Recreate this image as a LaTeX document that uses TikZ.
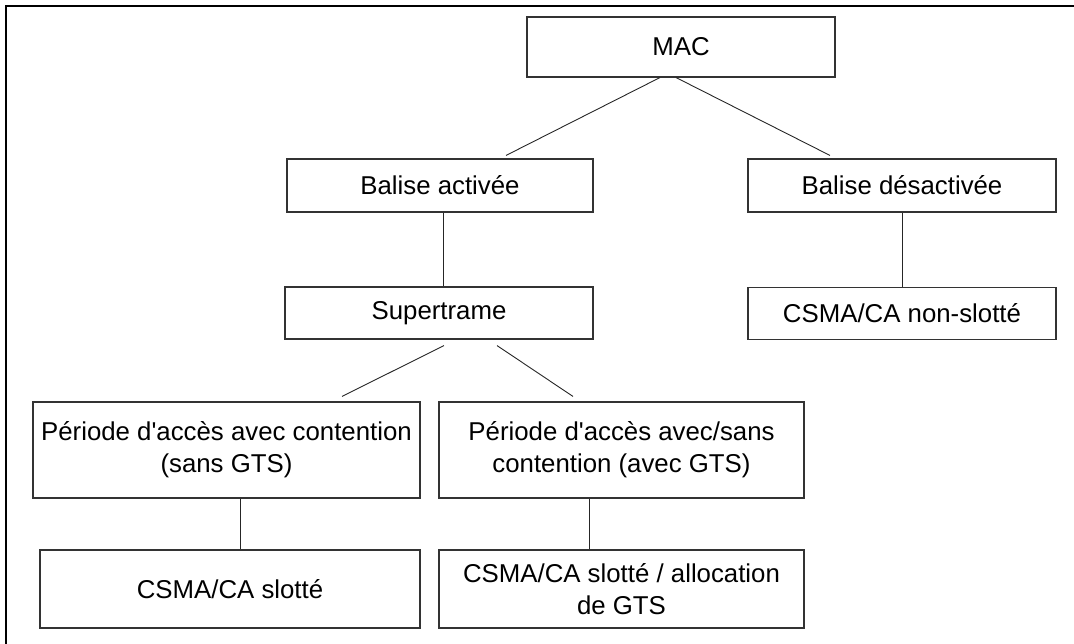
\documentclass[tikz,border=0pt]{standalone}
\usepackage{fontspec}
\setmainfont{Liberation Sans}
\begin{document}
\begin{tikzpicture}[x=1pt,y=-1pt,
  box/.style={draw=black!80, line width=1.1pt, rectangle, inner sep=0pt,
    align=center, text=black, font=\fontsize{25.8}{32}\selectfont},
  link/.style={draw=black!85, line width=0.9pt},
  frame/.style={draw=black, line width=2.5pt}]
\useasboundingbox (0,0) rectangle (1074,644);
% outer frame (top and left edges only)
\coordinate (ftl) at (6,6);
\coordinate (ftr) at (1074,6);
\coordinate (fbl) at (6,644);
\draw[frame] (ftr) -- (ftl) -- (fbl);
% nodes
\node[box, minimum width=308, minimum height=60] (mac) at (681,47) {MAC};
\node[box, minimum width=306, minimum height=53] (bact) at (440,185.5) {Balise activée};
\node[box, minimum width=308, minimum height=53] (bdes) at (902,185.5) {Balise désactivée};
\node[box, minimum width=308, minimum height=52] (super) at (439,313) {Supertrame};
\node[box, minimum width=308, minimum height=52] (nonsl) at (902,313.5) {CSMA/CA non-slotté};
\node[box, minimum width=387, minimum height=96] (pleft) at (226.5,450) {Période d\textquotesingle{}accès avec contention\\(sans GTS)};
\node[box, minimum width=365, minimum height=96] (pright) at (621.5,450) {Période d\textquotesingle{}accès avec/sans\\contention (avec GTS)};
\node[box, minimum width=380, minimum height=78] (cleft) at (230,589) {CSMA/CA slotté};
\node[box, minimum width=365, minimum height=78] (cright) at (621.5,589) {CSMA/CA slotté / allocation\\de GTS};
% connectors
\draw[link] ([xshift=-21pt]mac.south) -- ([xshift=66pt,yshift=3pt]bact.north);
\draw[link] ([xshift=-5pt]mac.south) -- ([xshift=-72pt,yshift=3pt]bdes.north);
\draw[link] ([xshift=3pt]bact.south) -- ([xshift=4pt]super.north);
\draw[link] (bdes.south) -- (nonsl.north);
\draw[link] ([xshift=5pt,yshift=-6pt]super.south) -- ([xshift=115.5pt,yshift=5pt]pleft.north);
\draw[link] ([xshift=58pt,yshift=-6pt]super.south) -- ([xshift=-48.5pt,yshift=5pt]pright.north);
\draw[link] ([xshift=13.5pt]pleft.south) -- ([xshift=10pt]cleft.north);
\draw[link] ([xshift=-32.5pt]pright.south) -- ([xshift=-32.5pt]cright.north);
\end{tikzpicture}
\end{document}
